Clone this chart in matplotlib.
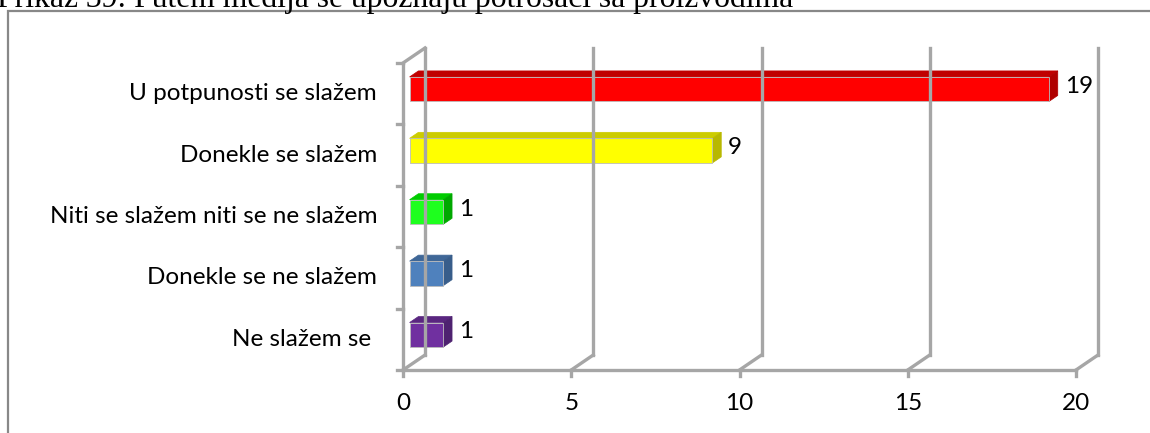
import matplotlib.pyplot as plt
from matplotlib.patches import Polygon, Rectangle

kategorije = ['Ne slažem se ', 'Donekle se ne slažem', 'Niti se slažem niti se ne slažem',
              'Donekle se slažem', 'U potpunosti se slažem']
vrijednosti = [1, 1, 1, 9, 19]
boje_prednja = ['#7030A0', '#4F81BD', '#1EFF1E', '#FFFF00', '#FF0000']
boje_gornja = ['#5A2680', '#3F6797', '#00CC00', '#CCCC00', '#C00000']
boje_bocna = ['#4E2270', '#385D8A', '#00A800', '#B8B800', '#B00000']
x_ticks = [0, 5, 10, 15, 20]

W, H = 1150, 433
fig = plt.figure(figsize=(W / 100, H / 100), dpi=100)

# okvir oko grafikona
fig.patches.append(Rectangle((8 / W, -0.1), 1.2, 1 - 11 / H + 0.1, transform=fig.transFigure,
                             fill=False, edgecolor='#888888', linewidth=1.6))
fig.text(-3 / W, 1 - 7 / H, 'Prikaz 39: Putem medija se upoznaju potrošači sa proizvodima',
         family='Liberation Serif', fontsize=22.8, va='baseline', ha='left')

ax = fig.add_axes([403 / W, (H - 370) / H, 673 / W, 307 / H])
ax.set_xlim(0, 20)
ax.set_ylim(-0.5, 4.5)
ax.axis('off')

DX = 22 / 33.65      # dubina u jedinicama x
DY = 15 / 61.4       # dubina u jedinicama kategorija
siva = '#A6A6A6'
lw = 2.4
n = len(kategorije)
fs = 17.5

# zadnji zid i pod
for t in x_ticks:
    ax.plot([t + DX, t + DX], [-0.5 + DY, n - 0.5 + DY], color=siva, lw=lw, clip_on=False)
    ax.plot([t, t + DX], [-0.5, -0.5 + DY], color=siva, lw=lw, clip_on=False)
    ax.plot([t, t], [-0.5, -0.5 - 0.1], color=siva, lw=lw, clip_on=False)
    ax.text(t, -1.04, str(t), ha='center', va='center', fontsize=fs, family='Lato')
ax.plot([0, 0], [-0.5, n - 0.5], color=siva, lw=lw, clip_on=False, solid_capstyle='butt')
ax.plot([0, DX], [n - 0.5, n - 0.5 + DY], color=siva, lw=lw, clip_on=False)
ax.plot([0, 20], [-0.5, -0.5], color=siva, lw=lw, clip_on=False)
for i in range(n + 1):
    ax.plot([-0.18, 0], [i - 0.5, i - 0.5], color=siva, lw=lw, clip_on=False)

# 3D stupci
d0, d1 = 0.3, 0.7
h = 0.4
for i, (v, cf, ct, cs) in enumerate(zip(vrijednosti, boje_prednja, boje_gornja, boje_bocna)):
    y0 = i - h / 2 + d0 * DY
    y1 = i + h / 2 + d0 * DY
    x0 = d0 * DX
    x1 = v + d0 * DX
    ddx = (d1 - d0) * DX
    ddy = (d1 - d0) * DY
    gornja = Polygon([(x0, y1), (x1, y1), (x1 + ddx, y1 + ddy), (x0 + ddx, y1 + ddy)],
                     closed=True, facecolor=ct, edgecolor=ct, lw=0.5, clip_on=False)
    bocna = Polygon([(x1, y0), (x1 + ddx, y0 + ddy), (x1 + ddx, y1 + ddy), (x1, y1)],
                    closed=True, facecolor=cs, edgecolor=cs, lw=0.5, clip_on=False)
    prednja = Polygon([(x0, y0), (x1, y0), (x1, y1), (x0, y1)], closed=True,
                      facecolor=cf, edgecolor='#BBBBBB', lw=0.6, clip_on=False)
    ax.add_patch(gornja)
    ax.add_patch(bocna)
    ax.add_patch(prednja)
    ax.annotate(str(v), (x1 + ddx, i + (d0 + d1) / 2 * DY), xytext=(5, 0),
                textcoords='offset points', va='center', ha='left', fontsize=fs,
                family='Lato', annotation_clip=False)
    ax.text(-0.77, i, kategorije[i], ha='right', va='center', fontsize=fs, family='Lato')

fig.savefig('out.png', dpi=100)
